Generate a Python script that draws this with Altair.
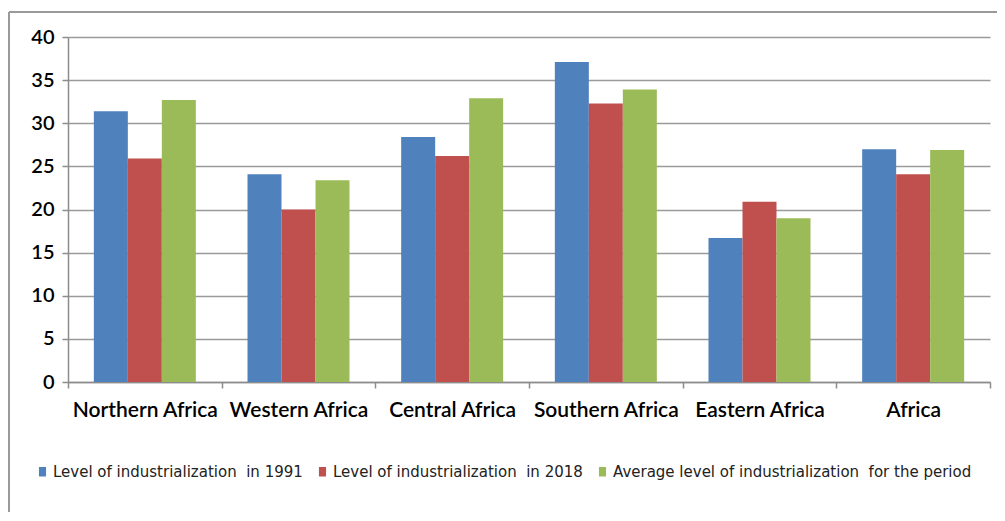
import altair as alt
import pandas as pd

regions = ["Northern Africa", "Western Africa", "Central Africa", "Southern Africa", "Eastern Africa", "Africa"]
series = [
    "Level of industrialization\u00a0 in 1991",
    "Level of industrialization\u00a0 in 2018",
    "Average level of industrialization\u00a0 for the period",
]
v1991 = [31.4, 24.1, 28.4, 37.1, 16.7, 27.0]
v2018 = [25.9, 20.0, 26.2, 32.3, 20.9, 24.1]
vavg = [32.7, 23.4, 32.9, 33.9, 19.0, 26.9]
colors = ["#4F81BD", "#C0504D", "#9BBB59"]

rows = []
for i, r in enumerate(regions):
    for s, vals in zip(series, [v1991, v2018, vavg]):
        rows.append({"region": r, "series": s, "value": vals[i]})
df = pd.DataFrame(rows)

FONT = "Lato"

bars = alt.Chart(df).mark_bar().encode(
    x=alt.X("region:N", sort=regions, title=None,
            scale=alt.Scale(paddingInner=0, paddingOuter=0),
            axis=alt.Axis(labelAngle=0, labelFontSize=21, labelFontWeight=600,
                          labelColor="#000000", labelLimit=0,
                          labelFont=FONT, tickBand="extent", tickSize=6,
                          tickColor="#8C8C8C", domainColor="#8C8C8C", domainWidth=1.5,
                          tickWidth=1.5, labelPadding=11, grid=False)),
    xOffset=alt.XOffset("series:N", sort=series,
                        scale=alt.Scale(paddingOuter=0.76, paddingInner=0)),
    y=alt.Y("value:Q", title=None,
            scale=alt.Scale(domain=[0, 40], nice=False),
            axis=alt.Axis(values=[0, 5, 10, 15, 20, 25, 30, 35, 40], labelFontSize=20,
                          labelFontWeight=600,
                          labelFont=FONT, labelColor="#000000", tickSize=6,
                          tickColor="#8C8C8C", tickWidth=1.5, domain=True,
                          domainColor="#8C8C8C",
                          domainWidth=1.5, gridColor="#9A9A9A", gridWidth=1.5,
                          labelPadding=8)),
    color=alt.Color("series:N", sort=series,
                    scale=alt.Scale(domain=series, range=colors),
                    legend=alt.Legend(title=None, orient="none", direction="horizontal",
                                      legendX=-33, legendY=427,
                                      symbolType="M-0.75,-1L0.75,-1L0.75,1L-0.75,1Z",
                                      symbolSize=90, symbolStrokeWidth=0,
                                      labelFont="DejaVu Sans", labelFontSize=15,
                                      labelLimit=0,
                                      labelColor="#222222", columnPadding=12,
                                      symbolOffset=0, labelOffset=3)),
)

frame = pd.DataFrame([{"k": 0}])
left_rule = alt.Chart(frame).mark_rule(color="#9A9A9A", strokeWidth=2).encode(
    x=alt.value(-59), y=alt.value(-25), y2=alt.value(500))
top_rule = alt.Chart(frame).mark_rule(color="#9A9A9A", strokeWidth=2).encode(
    x=alt.value(-59), x2=alt.value(960), y=alt.value(-25))

chart = alt.layer(bars, left_rule, top_rule).properties(
    width=922, height=345,
    autosize=alt.AutoSizeParams(type="none"),
    padding={"left": 60, "top": 29, "right": 7, "bottom": 130},
).configure_view(stroke=None).configure_axis(gridDash=[])

chart.save("out.html", embed_options={"renderer": "svg", "actions": False})
